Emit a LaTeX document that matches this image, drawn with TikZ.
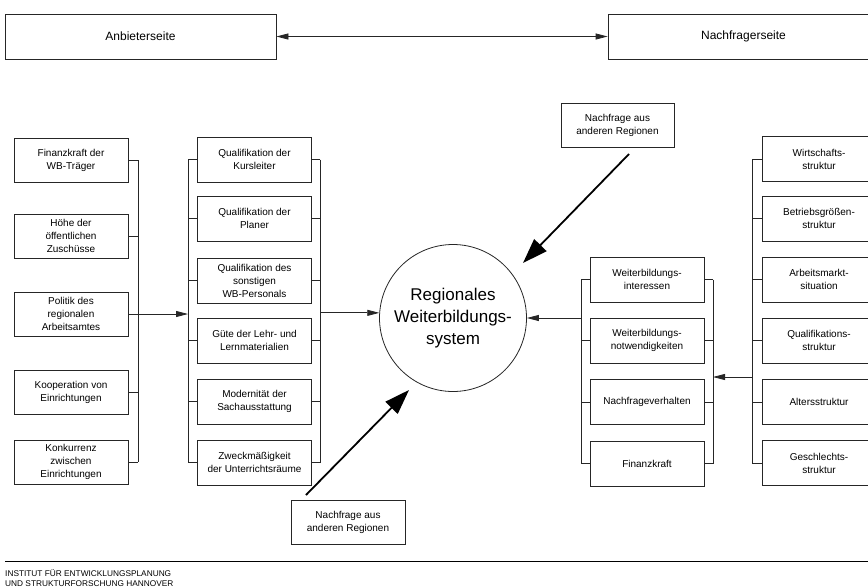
\documentclass[tikz,border=0pt]{standalone}
\usepackage{fontspec}
\setmainfont{Liberation Sans}
\usetikzlibrary{arrows.meta,calc}
\begin{document}
\begin{tikzpicture}[x=1pt,y=-1pt,
  box/.style={draw=black!85, line width=0.8pt, minimum width=114pt, minimum height=44pt,
    align=center, inner sep=0pt, font=\fontsize{10}{13}\selectfont},
  topbox/.style={draw=black!85, line width=0.8pt, minimum width=271pt, minimum height=45pt,
    inner sep=0pt, font=\fontsize{12}{14}\selectfont},
  conn/.style={draw=black!85, line width=0.8pt},
  smallarrow/.style={conn, -{Triangle[length=12pt,width=6pt]}},
  bigarrow/.style={draw=black, line width=1.8pt, -{Triangle[length=25pt,width=17pt]}},
  foot/.style={inner sep=0pt, anchor=base west, font=\fontsize{8.3}{10}\selectfont}
]
\clip (0,0) rectangle (868,587);
\fill[white] (0,0) rectangle (868,587);

% top boxes
\node[topbox] (anb) at (140.5,36.5) {Anbieterseite};
\node[topbox] (nach) at (743.5,36.5) {Nachfragerseite};
\draw[conn, {Triangle[length=12pt,width=6pt]}-{Triangle[length=12pt,width=6pt]}] (anb.east) -- (nach.west);

% bus coordinates
\coordinate (busL) at (138,0);
\coordinate (busML) at (188,0);
\coordinate (busMR) at (320,0);
\coordinate (busRL) at (581,0);
\coordinate (busRR) at (713,0);
\coordinate (busR) at (752,0);

% left column
\node[box] (L1) at (71,160) {Finanzkraft der\\WB-Träger};
\node[box] (L2) at (71,236) {Höhe der\\öffentlichen\\Zuschüsse};
\node[box] (L3) at (71,314) {Politik des\\regionalen\\Arbeitsamtes};
\node[box] (L4) at (71,392) {Kooperation von\\Einrichtungen};
\node[box] (L5) at (71,462) {Konkurrenz\\zwischen\\Einrichtungen};
\foreach \n in {L1,L2,L3,L4,L5} {\draw[conn] (\n.east) -- (\n.east -| busL);}
\draw[conn] (L1.east -| busL) -- (L5.east -| busL);

% middle column
\node[box, minimum height=45pt] (M1) at (254.5,159.5) {Qualifikation der\\Kursleiter};
\node[box, minimum height=45pt] (M2) at (254.5,218.5) {Qualifikation der\\Planer};
\node[box, minimum height=45pt] (M3) at (254.5,280.5) {Qualifikation des\\sonstigen\\WB-Personals};
\node[box, minimum height=45pt] (M4) at (254.5,340.5) {Güte der Lehr- und\\Lernmaterialien};
\node[box, minimum height=45pt] (M5) at (254.5,401.5) {Modernität der\\Sachausstattung};
\node[box, minimum height=45pt] (M6) at (254.5,462.5) {Zweckmäßigkeit\\der Unterrichtsräume};
\foreach \n in {M1,M2,M3,M4,M5,M6} {
  \draw[conn] (\n.west) -- (\n.west -| busML);
  \draw[conn] (\n.east) -- (\n.east -| busMR);
}
\draw[conn] (M1.west -| busML) -- (M6.west -| busML);
\draw[conn] (M1.east -| busMR) -- (M6.east -| busMR);
\draw[smallarrow] (L3.east -| busL) -- (L3.east -| busML);

% central circle
\node[draw=black!85, line width=0.8pt, circle, minimum size=147pt, inner sep=0pt, align=center,
  font=\fontsize{17}{22}\selectfont] (circ) at (453,318) {Regionales\\Weiterbildungs-\\system};
\draw[smallarrow] (circ.176 -| busMR) -- (circ.176);

% right-middle column
\node[box, minimum height=45pt] (RM1) at (647,279.5) {Weiterbildungs-\\interessen};
\node[box, minimum height=45pt] (RM2) at (647,340.5) {Weiterbildungs-\\notwendigkeiten};
\node[box, minimum height=45pt] (RM3) at (647,402) {Nachfrageverhalten};
\node[box, minimum height=45pt] (RM4) at (647,463.5) {Finanzkraft};
\foreach \n in {RM1,RM2,RM3,RM4} {
  \draw[conn] (\n.west) -- (\n.west -| busRL);
  \draw[conn] (\n.east) -- (\n.east -| busRR);
}
\draw[conn] (RM1.west -| busRL) -- (RM4.west -| busRL);
\draw[conn] (RM1.east -| busRR) -- (RM4.east -| busRR);
\draw[smallarrow] (circ.east -| busRL) -- (circ.east);

% right column
\node[box, minimum height=45pt] (R1) at (819,159) {Wirtschafts-\\struktur};
\node[box, minimum height=45pt] (R2) at (819,218.5) {Betriebsgrößen-\\struktur};
\node[box, minimum height=45pt] (R3) at (819,279.5) {Arbeitsmarkt-\\situation};
\node[box, minimum height=45pt] (R4) at (819,340.5) {Qualifikations-\\struktur};
\node[box, minimum height=45pt] (R5) at (819,402) {Altersstruktur};
\node[box, minimum height=45pt] (R6) at (819,463) {Geschlechts-\\struktur};
\foreach \n in {R1,R2,R3,R4,R5,R6} {\draw[conn] (\n.west) -- (\n.west -| busR);}
\draw[conn] (R1.west -| busR) -- (R6.west -| busR);
\coordinate (ry) at (0,377);
\draw[smallarrow] (ry -| busR) -- (ry -| busRR);

% external demand
\node[box, minimum width=113pt] (NT) at (617.5,125) {Nachfrage aus\\anderen Regionen};
\node[box] (NB) at (348,522) {Nachfrage aus\\anderen Regionen};
\coordinate (t1) at (629,154);
\coordinate (h1) at (523,263);
\coordinate (t2) at (306,495);
\coordinate (h2) at (409,390);
\draw[bigarrow] (t1) -- (h1);
\draw[bigarrow] (t2) -- (h2);

% footer
\coordinate (fl) at (5,561);
\coordinate (fr) at (868,561);
\draw[black, line width=1pt] (fl) -- (fr);
\node[foot] (foot1) at (5,576) {INSTITUT FÜR ENTWICKLUNGSPLANUNG};
\node[foot] (foot2) at (5,586) {UND STRUKTURFORSCHUNG HANNOVER};
\end{tikzpicture}
\end{document}
